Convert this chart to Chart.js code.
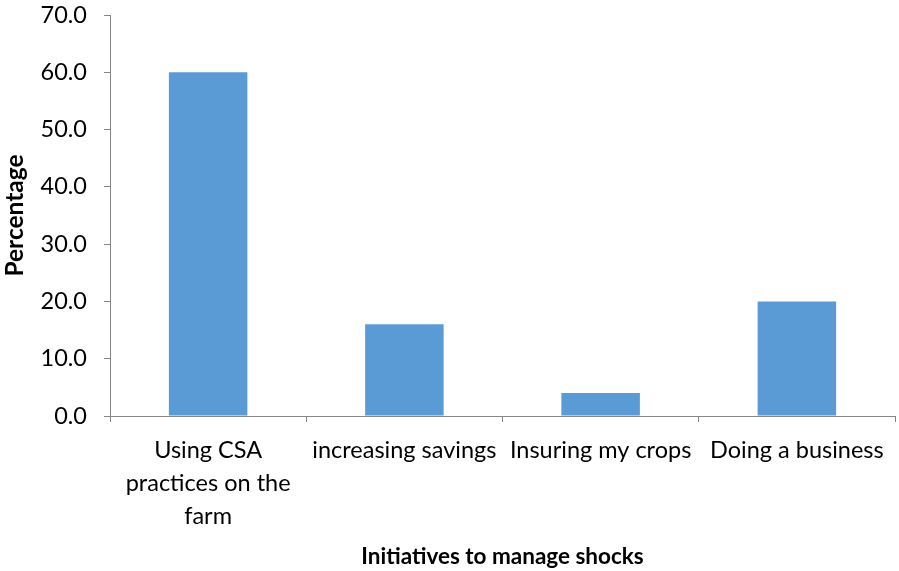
<!DOCTYPE html>
<html>
<head>
<meta charset="utf-8">
<script src="https://cdn.jsdelivr.net/npm/chart.js@4"></script>
<style>
  html, body { margin: 0; padding: 0; background: #fff; }
  #wrap { width: 899px; height: 571px; position: relative; }
</style>
</head>
<body>
<div id="wrap"><canvas id="c"></canvas></div>
<script>
// shock management initiatives (percent of respondents)
const categories = [
  ['Using CSA', 'practices on the', 'farm'],
  'increasing savings',
  'Insuring my crops',
  'Doing a business'
];
const percentages = [60.0, 16.0, 4.0, 20.0];
const yTicks = { min: 0, max: 70, step: 10 };

const axisGrey = '#868686';
const barBlue = '#5B9BD5';
const font = "Lato, 'Open Sans', sans-serif";

new Chart(document.getElementById('c'), {
  type: 'bar',
  data: {
    labels: categories,
    datasets: [{
      data: percentages,
      backgroundColor: barBlue,
      borderWidth: 0,
      barPercentage: 0.4,
      categoryPercentage: 1
    }]
  },
  options: {
    responsive: true,
    maintainAspectRatio: false,
    animation: false,
    layout: { padding: { top: 0, right: 4, left: 0, bottom: 0 } },
    plugins: { legend: { display: false }, tooltip: { enabled: false } },
    scales: {
      x: {
        offset: true,
        border: { color: axisGrey, width: 1 },
        grid: { offset: true, drawOnChartArea: false, color: axisGrey, tickLength: 6 },
        ticks: {
          color: '#000', maxRotation: 0, autoSkip: false, padding: 12,
          font: { family: font, size: 23.5, lineHeight: 1.4 }
        },
        title: {
          display: true, text: 'Initiatives to manage shocks', color: '#000',
          font: { family: font, size: 22.5, weight: 'bold' }, padding: { top: 10, bottom: 1 }
        },
        afterFit: s => { s.height = 155; }
      },
      y: {
        min: yTicks.min, max: yTicks.max,
        border: { color: axisGrey, width: 1 },
        grid: { drawOnChartArea: false, color: axisGrey, tickLength: 6 },
        ticks: {
          stepSize: yTicks.step, color: '#000', padding: 17,
          font: { family: font, size: 23.5 },
          callback: v => v.toFixed(1)
        },
        title: {
          display: true, text: 'Percentage', color: '#000',
          font: { family: font, size: 24.5, weight: 'bold' }, padding: { top: 0, bottom: 0 }
        },
        // fixed axis width and top inset so the plot area lines up
        afterFit: s => { s.width = 110; s.paddingTop = 15; }
      }
    }
  }
});
</script>
</body>
</html>
